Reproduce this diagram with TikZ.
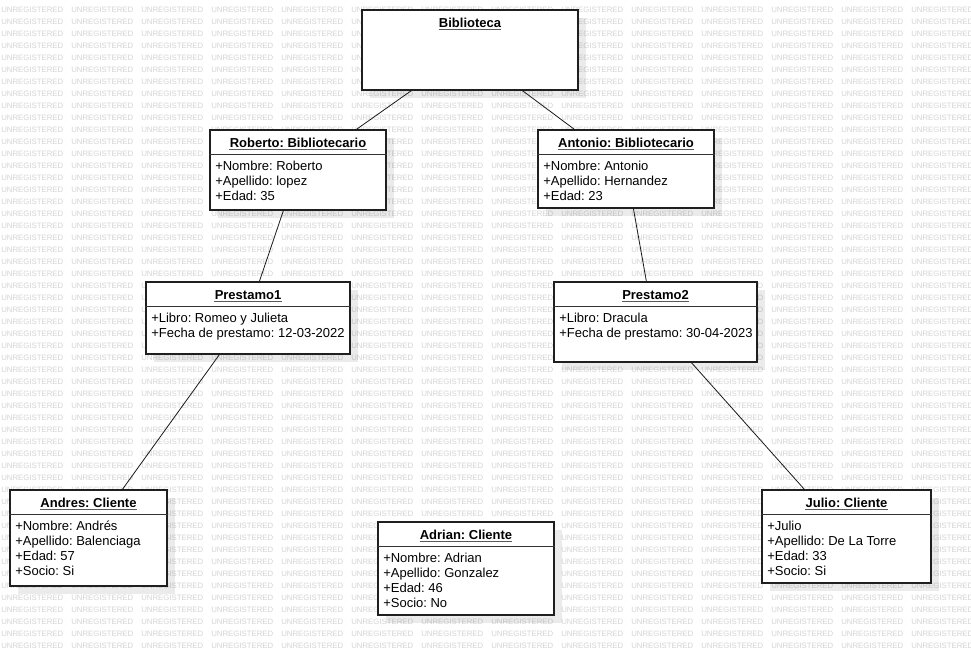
\documentclass[tikz,border=0pt]{standalone}
\usepackage{fontspec}
\setmainfont{Liberation Sans}
\frenchspacing
\usetikzlibrary{fit,calc,shadows}
\tikzset{
  objbox/.style={draw=black!88, line width=0.9pt, fill=white, inner sep=0pt,
    drop shadow={shadow xshift=6pt, shadow yshift=-6pt, fill=black, opacity=0.08}},
  sepline/.style={draw=black!80, line width=0.85pt},
  titletext/.style={anchor=base, inner sep=0pt, font=\bfseries\fontsize{9.75}{11.25}\selectfont},
  uline/.style={draw=black!65, line width=1pt},
  attrtext/.style={anchor=base west, inner sep=0pt, font=\fontsize{9.75}{11.25}\selectfont},
  conn/.style={draw=black!90, line width=0.6pt},
  wm/.style={anchor=west, inner sep=0pt, text=black!17, font=\fontsize{5.85}{6}\selectfont}
}
\newcommand{\umlobj}[7]{%
  \node[objbox, fit={(#2,#3) (#4,#5)}] (#1) {};
  \draw[sepline] ($(#1.north west)+(0,25)$) -- ($(#1.north east)+(0,25)$);
  \node[titletext] (#1-t) at ({(#2+#4)/2},{#3+17.3}) {#6};
  \draw[uline] ($(#1-t.base west)+(0,2.5)$) -- ($(#1-t.base east)+(0,2.5)$);
  \foreach \a [count=\k] in {#7} \node[attrtext] (#1-a\k) at ({#2+5},{#3+40.3+15*(\k-1)}) {\a};
}
\begin{document}
\begin{tikzpicture}[x=0.75pt,y=-0.75pt]
\useasboundingbox (0,0) rectangle (971,655);
\fill[white] (0,0) rectangle (971,655);
\begin{scope}
\clip (0,0) rectangle (971,655);
\foreach \i in {0,...,13}{
  \foreach \j in {0,...,53}{
    \node[wm] (w-\i-\j) at ({1+70*\i},{9.5+12*\j}) {UNREGISTERED};
  }
}
\end{scope}
% Biblioteca
\node[objbox, fit={(362,10) (578,90)}] (bib) {};
\node[titletext] (bib-t) at (470,27.3) {Biblioteca};
\draw[uline] ($(bib-t.base west)+(0,2.5)$) -- ($(bib-t.base east)+(0,2.5)$);
% objects
\umlobj{rob}{210}{130}{386}{210}{Roberto: Bibliotecario}{+Nombre: Roberto,+Apellido: lopez,+Edad: 35}
\umlobj{ant}{538}{130}{714}{208}{Antonio: Bibliotecario}{+Nombre: Antonio,+Apellido: Hernandez,+Edad: 23}
\umlobj{pa}{146}{282}{350}{354}{Prestamo1}{+Libro: Romeo y Julieta,+Fecha de prestamo: 12-03-2022}
\umlobj{pb}{554}{282}{757}{362}{Prestamo2}{+Libro: Dracula,+Fecha de prestamo: 30-04-2023}
\umlobj{andr}{10}{490}{167}{586}{Andres: Cliente}{+Nombre: Andrés,+Apellido: Balenciaga,+Edad: 57,+Socio: Si}
\umlobj{adr}{378}{522}{554}{615}{Adrian: Cliente}{+Nombre: Adrian,+Apellido: Gonzalez,+Edad: 46,+Socio: No}
\umlobj{jul}{762}{490}{931}{583}{Julio: Cliente}{+Julio,+Apellido: De La Torre,+Edad: 33,+Socio: Si}
% connectors
\draw[conn] ($(bib.south west)+(50,0)$) -- ($(rob.north west)+(147,0)$);
\draw[conn] ($(bib.south west)+(161,0)$) -- ($(ant.north west)+(37,0)$);
\draw[conn] ($(rob.south west)+(74,0)$) -- ($(pa.north west)+(114,0)$);
\draw[conn] ($(ant.south west)+(96,0)$) -- ($(pb.north west)+(93,0)$);
\draw[conn] ($(pa.south west)+(74,0)$) -- ($(andr.north west)+(113,0)$);
\draw[conn] ($(pb.south west)+(138,0)$) -- ($(jul.north west)+(43,0)$);
\end{tikzpicture}
\end{document}
